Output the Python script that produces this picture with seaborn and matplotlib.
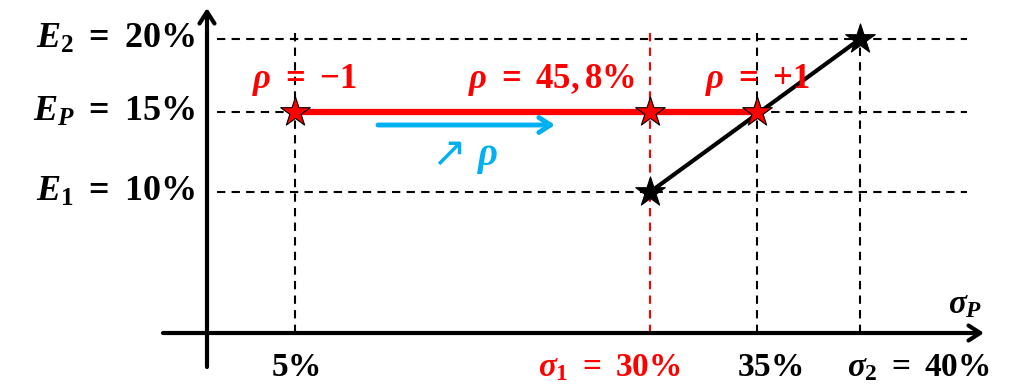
import matplotlib.pyplot as plt
import numpy as np
import seaborn as sns

sns.set_theme(style='white')
plt.rcParams['font.family'] = ['Liberation Serif', 'DejaVu Sans']
plt.rcParams['mathtext.fontset'] = 'custom'
plt.rcParams['mathtext.rm'] = 'Liberation Serif:bold'
plt.rcParams['mathtext.it'] = 'Liberation Serif:bold:italic'
plt.rcParams['mathtext.bf'] = 'Liberation Serif:bold'

# values, in percent
SIGMA_TICKS = [5, 30, 35, 40]
SIGMA_LABELS = [r'$5\%$', r'$\sigma_1\ =\ 30\%$', r'$35\%$', r'$\sigma_2\ =\ 40\%$']
SIGMA_COLORS = ['black', 'red', 'black', 'black']
E_TICKS = [10, 15, 20]
E_LABELS = [r'$E_1\ =\ 10\%$', r'$E_P\ =\ 15\%$', r'$E_2\ =\ 20\%$']
RHO_SIGMA = [5, 30, 35]
RHO_E = [15, 15, 15]
RHO_LABELS = [r'$\rho\ =\ {-1}$', r'$\rho\ =\ 45,8\%$', r'$\rho\ =\ {+1}$']
ASSET_SIGMA = [30, 40]
ASSET_E = [10, 20]

W, H = 1018, 392

# schematic (not to scale) axes: piecewise linear value -> pixel
XV = [-20, 0, 5, 30, 35, 40, 60]
XP = [-145, 207, 295, 650, 757, 860, 1272]
YV = [-10, 0, 10, 15, 20, 40]
YP = [-82, 59, 200, 280, 353, 645]


def fwd_x(v):
    return np.interp(v, XV, XP)


def inv_x(p):
    return np.interp(p, XP, XV)


def fwd_y(v):
    return np.interp(v, YV, YP)


def inv_y(p):
    return np.interp(p, YP, YV)


fig = plt.figure(figsize=(W / 100, H / 100), dpi=100)
ax = fig.add_axes([0, 0, 1, 1])
ax.set_xscale('function', functions=(fwd_x, inv_x))
ax.set_yscale('function', functions=(fwd_y, inv_y))
ax.set_xlim(inv_x(0), inv_x(W))
ax.set_ylim(inv_y(0), inv_y(H))
ax.set_axis_off()

dash = (0, (4, 3))
for e in E_TICKS:
    ax.axhline(e, xmin=217 / W, xmax=967 / W, color='black', lw=1.5, ls=dash, zorder=1)
for s in SIGMA_TICKS:
    ax.axvline(s, ymin=59 / H, ymax=(H - 28) / H, color='red' if s == 30 else 'black',
               lw=1.5, ls=dash, zorder=1)

# axes arrows
arrow = dict(arrowstyle='->,head_length=0.7,head_width=0.45', color='black', lw=3,
             shrinkA=0, shrinkB=0)
ax.annotate('', xy=(0, (H - 8) / H), xytext=(0, 25 / H),
            xycoords=ax.get_xaxis_transform(), arrowprops=arrow)
ax.annotate('', xy=(984 / W, 0), xytext=(163 / W, 0),
            xycoords=ax.get_yaxis_transform(), arrowprops=arrow)

sns.lineplot(x=RHO_SIGMA, y=RHO_E, color='red', lw=4.5, ax=ax, zorder=3)
sns.lineplot(x=ASSET_SIGMA, y=ASSET_E, color='black', lw=3, ax=ax, zorder=3)
sns.scatterplot(x=ASSET_SIGMA, y=ASSET_E, marker='*', s=500, color='black',
                edgecolor='black', linewidth=0.8, ax=ax, zorder=5)
sns.scatterplot(x=RHO_SIGMA, y=RHO_E, marker='*', s=500, color='red',
                edgecolor='black', linewidth=0.8, ax=ax, zorder=6)

# rho labels
for xc, lab in zip([304, 551, 757], RHO_LABELS):
    ax.text(xc / W, (H - 80) / H, lab, transform=ax.transAxes, ha='center', va='center',
            color='red', fontsize=25)

# increasing-rho arrow
ax.annotate('', xy=(555 / W, (H - 125) / H), xytext=(378 / W, (H - 125) / H),
            xycoords='axes fraction',
            arrowprops=dict(arrowstyle='->,head_length=0.7,head_width=0.45',
                            color='#00B0F0', lw=3.5, shrinkA=0, shrinkB=0))
ax.text(449 / W, (H - 154) / H, '\u2197', transform=ax.transAxes, ha='center',
        va='center', color='#00B0F0', fontsize=30, family=['DejaVu Sans'])
ax.text(488 / W, (H - 158) / H, r'$\rho$', transform=ax.transAxes, ha='center',
        va='center', color='#00B0F0', fontsize=28)

# tick labels
for e, lab in zip(E_TICKS, E_LABELS):
    ax.text(195 / W, e, lab, transform=ax.get_yaxis_transform(), ha='right',
            va='center', fontsize=26, color='black')
for s, lab, col, off in zip(SIGMA_TICKS, SIGMA_LABELS, SIGMA_COLORS, [0, -29, 9, 42]):
    ax.annotate(lab, xy=(s, (H - 368) / H), xycoords=ax.get_xaxis_transform(),
                xytext=(off, 0), textcoords='offset points', ha='center', va='center',
                fontsize=24, color=col)
ax.text(965 / W, (H - 305) / H, r'$\sigma_P$', transform=ax.transAxes, ha='center',
        va='center', fontsize=24, color='black')

fig.savefig('out.png', dpi=100)
